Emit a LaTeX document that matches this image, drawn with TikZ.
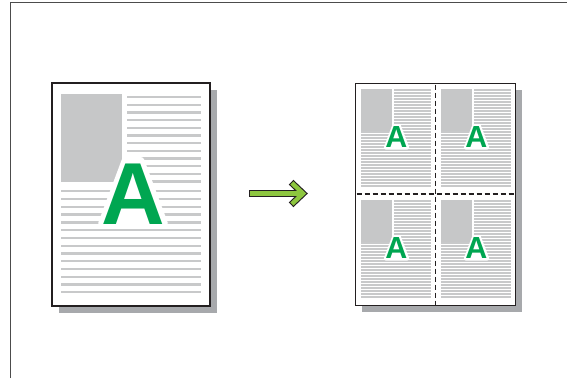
\documentclass[tikz,border=0pt]{standalone}
\usepackage{fontspec}
\setmainfont{Liberation Sans}
\definecolor{agreen}{RGB}{0,166,81}
\definecolor{arrgreen}{RGB}{141,198,63}
\definecolor{lgray}{RGB}{200,201,202}
\definecolor{bgray}{RGB}{198,199,200}
\definecolor{sgray}{RGB}{167,169,172}
\definecolor{framec}{RGB}{35,31,32}
\tikzset{
  textline/.style={draw=lgray, line width=2.3pt},
  smalline/.style={draw=lgray, line width=1.3pt},
  pageframe/.style={draw=framec, line width=1.8pt, fill=white},
  shadowbox/.style={fill=sgray},
  halo/.style={fill=white, draw=white, line join=round},
  bigA/.style={font=\bfseries\fontsize{88}{88}\selectfont, inner sep=0pt, anchor=base, text=agreen},
  smallA/.style={font=\bfseries\fontsize{30.5}{30.5}\selectfont, inner sep=0pt, anchor=base, text=agreen},
  cutline/.style={draw=framec, line width=1.4pt, dash pattern=on 5pt off 3pt},
  arrowout/.style={draw=framec, line width=6.6pt, line cap=rect, miter limit=10},
  arrowin/.style={draw=arrgreen, line width=4.4pt, line cap=rect, miter limit=10},
}
\newcommand\quadrantpage[3]{%
  \fill[bgray] ({#1+5},{#2+5}) rectangle ({#1+36},{#2+47});
  \foreach \k in {0,...,32} {
    \pgfmathsetmacro\yy{#2+6+3*\k}
    \pgfmathsetmacro\xs{(\yy<#2+48) ? (#1+38) : (#1+5)}
    \draw[smalline] (\xs,\yy) -- ({#1+75},\yy);
  }
  \filldraw[halo, line width=3.6pt] ({#1+40.5-10.9},{#2+63.7}) -- ({#1+40.5-2.6},{#2+63.7-21.9})
     -- ({#1+40.5+2.6},{#2+63.7-21.9}) -- ({#1+40.5+10.9},{#2+63.7}) -- cycle;
  \node[smallA] (#3A) at ({#1+40.5},{#2+63.7}) {A};
}
\begin{document}
\begin{tikzpicture}[x=1pt, y=-1pt]
  \useasboundingbox (0,0) rectangle (567,378);
  \fill[white] (0,0) rectangle (567,378);
  % outer frame (partial)
  \draw[gray!60!black, line width=1pt] (10.5,378) -- (10.5,2.5) -- (567,2.5);

  % ---------- left page ----------
  \fill[shadowbox] (59,90) rectangle (217,313);
  \draw[pageframe] (52,83) rectangle (210,306);
  \fill[bgray] (61,94) rectangle (122,182);
  \foreach \k in {0,...,11}
    \draw[textline] (127,{97.3+7.65*\k}) -- (201,{97.3+7.65*\k});
  \foreach \k in {0,...,13}
    \draw[textline] (61,{191.3+7.77*\k}) -- (201,{191.3+7.77*\k});
  \filldraw[halo, line width=8pt] (102,224) -- (125.5,161) -- (140.5,161) -- (164,224) -- cycle;
  \node[bigA] (bigA) at (133,224) {A};

  % ---------- arrow ----------
  \coordinate (arrS) at (252.5,193.5);
  \coordinate (arrE) at (300,193.5);
  \coordinate (chT) at (293.5,184.5);
  \coordinate (chM) at (303,193.5);
  \coordinate (chB) at (293.5,202.5);
  \draw[arrowout] (arrS) -- (arrE);
  \draw[arrowout] (chT) -- (chM) -- (chB);
  \draw[arrowin] (arrS) -- (arrE);
  \draw[arrowin] (chT) -- (chM) -- (chB);

  % ---------- right page ----------
  \fill[shadowbox] (362,90) rectangle (522,312);
  \draw[pageframe] (355.5,83.5) rectangle (515.5,305.5);
  \quadrantpage{356}{84}{tl}
  \quadrantpage{436}{84}{tr}
  \quadrantpage{356}{195}{bl}
  \quadrantpage{436}{195}{br}
  \coordinate (vT) at (435.7,84.5);
  \coordinate (vB) at (435.7,305);
  \coordinate (hL) at (356.5,194);
  \coordinate (hR) at (515,194);
  \draw[cutline] (vT) -- (vB);
  \draw[cutline] (hL) -- (hR);
\end{tikzpicture}
\end{document}
